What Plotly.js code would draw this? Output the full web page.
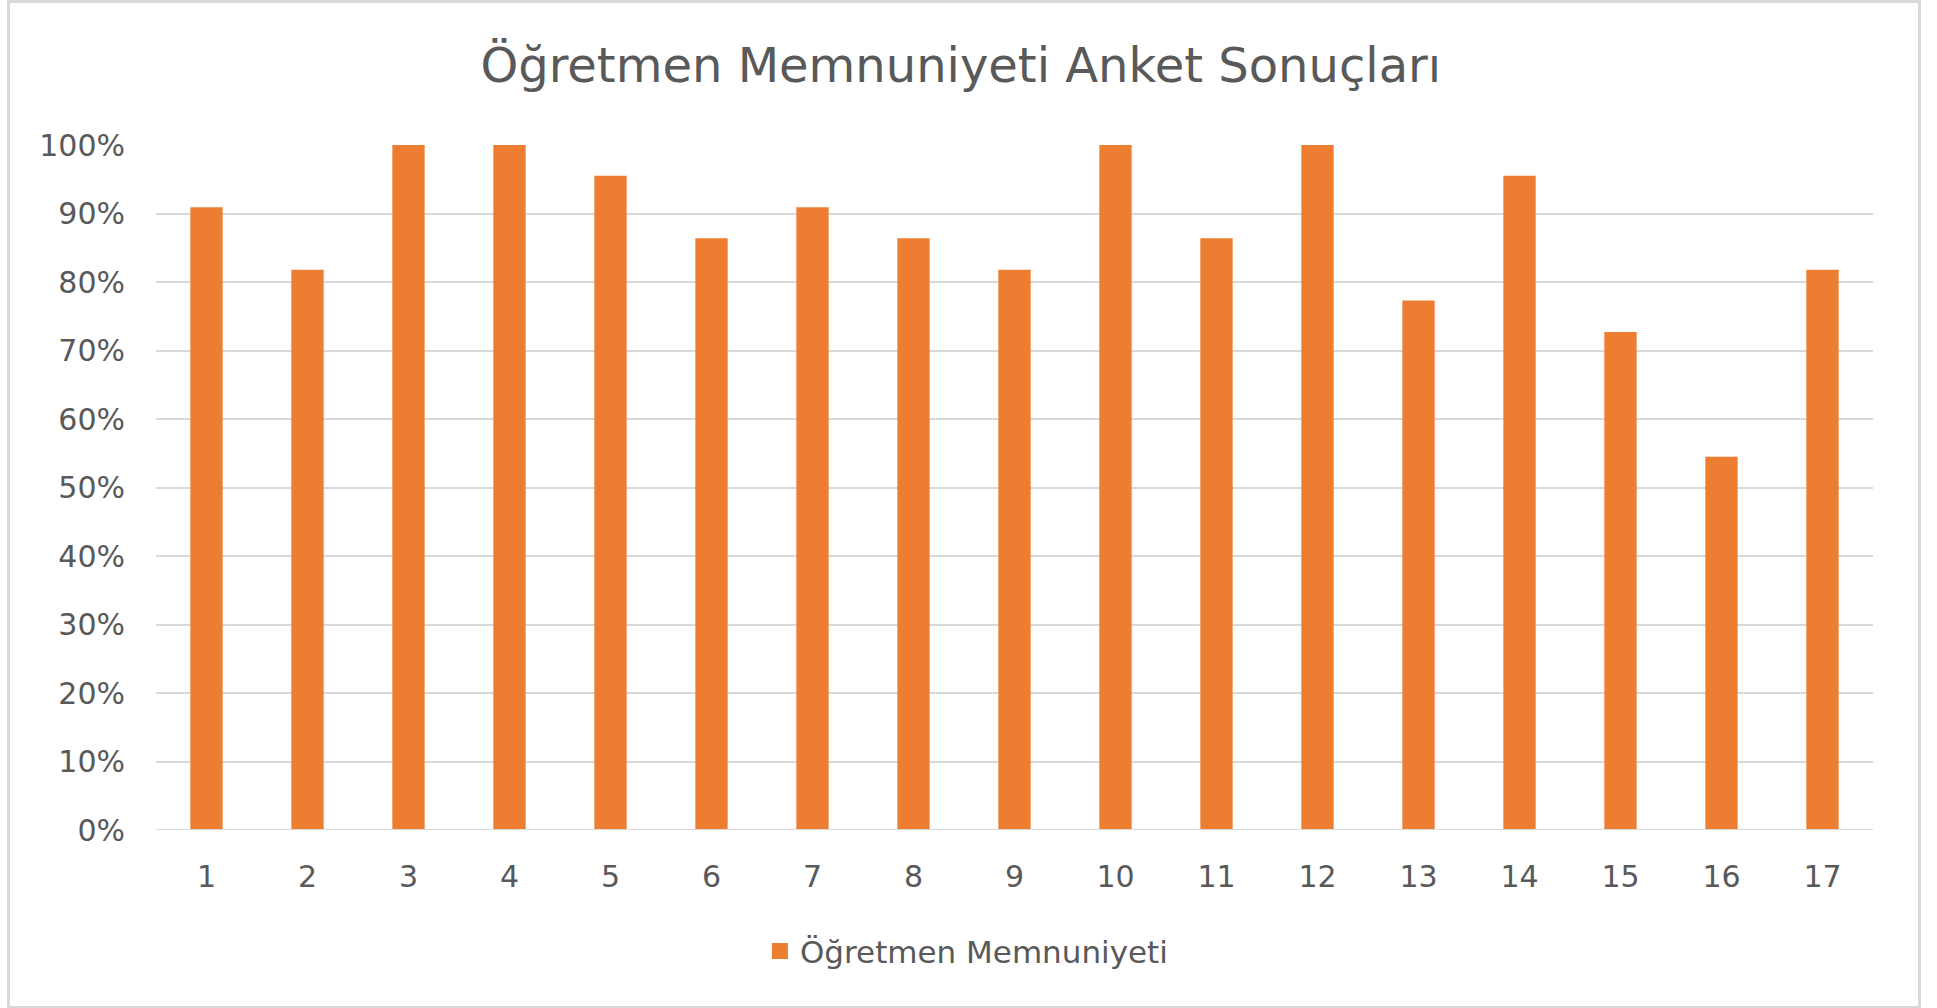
<!DOCTYPE html>
<html>
<head>
<meta charset="utf-8">
<script src="https://cdn.plot.ly/plotly-3.0.1.min.js"></script>
<style>
  html, body { margin: 0; padding: 0; background: #ffffff; }
  #chart { position: absolute; left: 0; top: 0; width: 1937px; height: 1008px; }
  #frame { position: absolute; left: 7px; top: 0px; width: 1908px; height: 1003px;
           border: 3px solid #d9d9d9; pointer-events: none; }
</style>
</head>
<body>
<div id="chart"></div>
<div id="frame"></div>
<script>
const chartTitle = "Öğretmen Memnuniyeti Anket Sonuçları";
const seriesName = "Öğretmen Memnuniyeti";
const categories = ["1","2","3","4","5","6","7","8","9","10","11","12","13","14","15","16","17"];
const satisfaction = [0.909, 0.818, 1.0, 1.0, 0.955, 0.864, 0.909, 0.864, 0.818, 1.0, 0.864, 1.0, 0.773, 0.955, 0.727, 0.545, 0.818];
const yTickValues = [0, 0.1, 0.2, 0.3, 0.4, 0.5, 0.6, 0.7, 0.8, 0.9, 1.0];
const yTickLabels = ["0%","10%","20%","30%","40%","50%","60%","70%","80%","90%","100%"];

const fontFamily = "'DejaVu Sans', 'Open Sans', sans-serif";
const textColor = "#595959";
const barColor = "#ed7d31";

const barTrace = {
  type: "bar",
  x: categories,
  y: satisfaction,
  name: seriesName,
  marker: { color: barColor, line: { width: 0 } },
  showlegend: false,
  legendgroup: "s",
  hoverinfo: "x+y"
};

// legend entry only (larger square key like the reference)
const legendKey = {
  type: "scatter",
  mode: "markers",
  x: [null],
  y: [null],
  name: seriesName,
  legendgroup: "s",
  marker: { symbol: "square", size: 17, color: barColor },
  showlegend: true,
  hoverinfo: "skip"
};

const layout = {
  width: 1937,
  height: 1008,
  paper_bgcolor: "rgba(0,0,0,0)",
  plot_bgcolor: "#ffffff",
  margin: { l: 156, r: 64, t: 145, b: 178 },
  bargap: 0.68,
  title: {
    text: chartTitle,
    font: { family: fontFamily, size: 48, color: textColor },
    x: 0.496, xanchor: "center",
    y: 0.935, yanchor: "middle", yref: "container"
  },
  xaxis: {
    type: "category",
    showgrid: false,
    showline: false,
    zeroline: false,
    ticks: "",
    tickfont: { family: fontFamily, size: 30, color: textColor },
    ticklabelstandoff: 26
  },
  yaxis: {
    range: [0, 1.0],
    tickvals: yTickValues,
    ticktext: yTickLabels,
    showgrid: true,
    gridcolor: "#d9d9d9",
    gridwidth: 2,
    zeroline: false,
    showline: false,
    ticks: "",
    tickfont: { family: fontFamily, size: 30, color: textColor },
    ticklabelstandoff: 30
  },
  showlegend: true,
  legend: {
    orientation: "h",
    x: 0.472, xanchor: "center",
    y: -0.177, yanchor: "middle",
    itemsizing: "trace",
    font: { family: fontFamily, size: 31, color: textColor },
    bgcolor: "rgba(0,0,0,0)"
  },
  shapes: [
    { type: "line", xref: "paper", yref: "y", x0: 0, x1: 1, y0: 0, y1: 0,
      line: { color: "#d9d9d9", width: 2 } }
  ]
};

Plotly.newPlot("chart", [barTrace, legendKey], layout, { displayModeBar: false, staticPlot: true });
</script>
</body>
</html>
